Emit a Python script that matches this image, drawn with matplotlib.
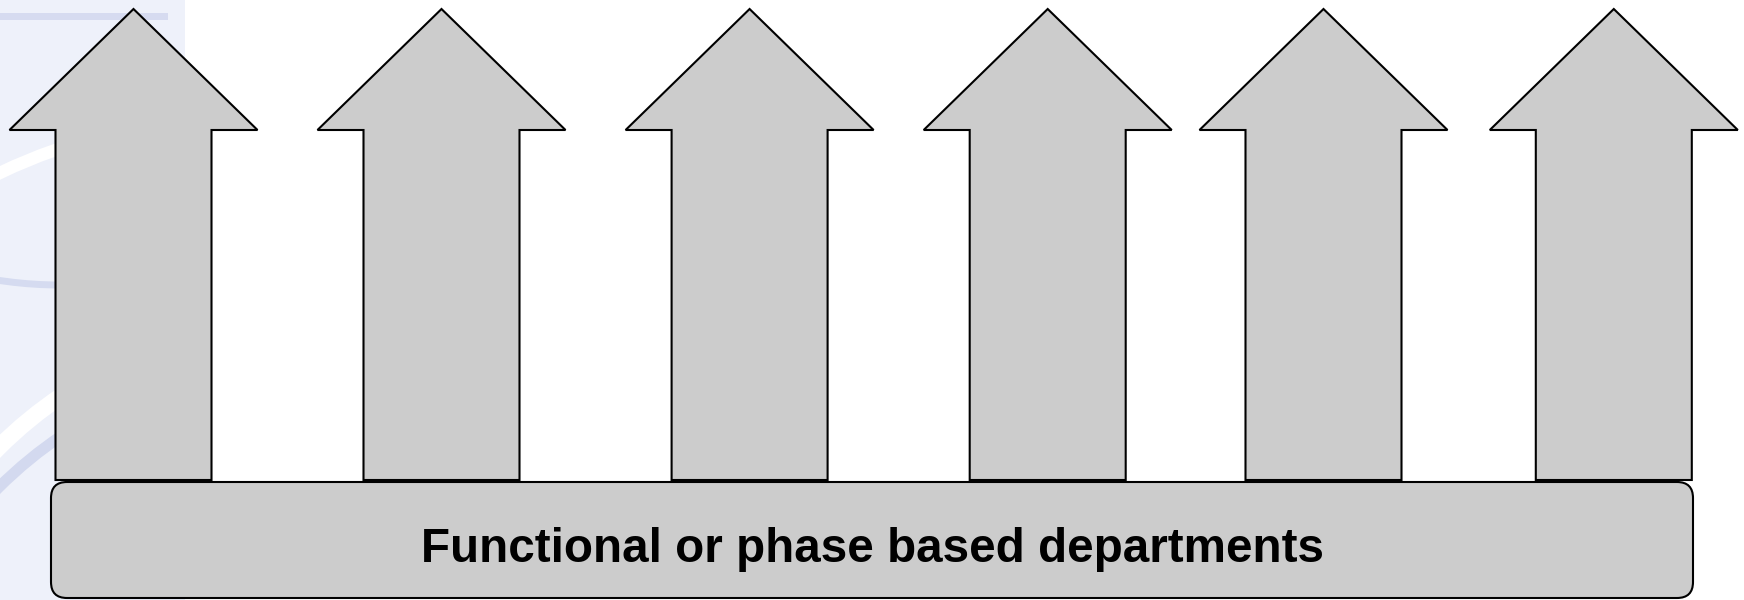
import matplotlib
matplotlib.use("Agg")
import matplotlib.pyplot as plt
from matplotlib.patches import Polygon, FancyBboxPatch, Rectangle, Arc

# arrow centres along the top row (pixels in a 1744x600 canvas)
arrow_centres = [133.5, 441.5, 749.6, 1047.7, 1323.5, 1613.8]
head_half = 124.0      # half width of the arrow head
shaft_half = 78.0      # half width of the shaft
tip_y = 9.0
head_base_y = 130.0
shaft_bottom_y = 480.0

# base bar
bar_left, bar_right = 51.0, 1693.0
bar_top, bar_bottom = 482.0, 598.0
bar_label = "Functional or phase based departments"

W, H = 1744, 600
PANEL_W = 185
fig = plt.figure(figsize=(W / 100, H / 100), dpi=100)

# faint slide background panel on the left, its own axes so the swooshes get clipped
bg = fig.add_axes([0, 0, PANEL_W / W, 1])
bg.set_xlim(0, PANEL_W)
bg.set_ylim(H, 0)
bg.set_facecolor("#eef1fa")
for s in bg.spines.values():
    s.set_visible(False)
bg.set_xticks([])
bg.set_yticks([])
bg.add_patch(Rectangle((0, 13), 168, 7, facecolor="#d6dbf0", edgecolor="none"))
swooshes = [
    # (cx, cy, diameter, theta1, theta2, colour, width)
    (250, 700, 1167, 180, 270, "white", 9),
    (60, -120, 810, 60, 120, "#d5dbf0", 5),
    (300, 750, 854, 180, 270, "white", 12),
    (300, 790, 854, 180, 270, "#d3d9ef", 8),
]
for cx, cy, d, t1, t2, col, lw in swooshes:
    bg.add_patch(Arc((cx, cy), d, d, theta1=t1, theta2=t2, color=col, lw=lw))

ax = fig.add_axes([0, 0, 1, 1])
ax.set_xlim(0, W)
ax.set_ylim(H, 0)
ax.axis("off")

bar = FancyBboxPatch((bar_left, bar_top), bar_right - bar_left, bar_bottom - bar_top,
                     boxstyle="round,pad=0,rounding_size=16",
                     facecolor="#cccccc", edgecolor="black", lw=1.5, zorder=2)
ax.add_patch(bar)
ax.text((bar_left + bar_right) / 2, 562, bar_label, ha="center", va="baseline",
        fontsize=34.3, fontweight="bold", family="Liberation Sans", zorder=4)

for c in arrow_centres:
    pts = [
        (c, tip_y),
        (c + head_half, head_base_y),
        (c + shaft_half, head_base_y),
        (c + shaft_half, shaft_bottom_y),
        (c - shaft_half, shaft_bottom_y),
        (c - shaft_half, head_base_y),
        (c - head_half, head_base_y),
    ]
    ax.add_patch(Polygon(pts, closed=True, facecolor="#cccccc", edgecolor="black",
                         lw=1.5, joinstyle="miter", zorder=3))

fig.savefig("out.png", dpi=100)
